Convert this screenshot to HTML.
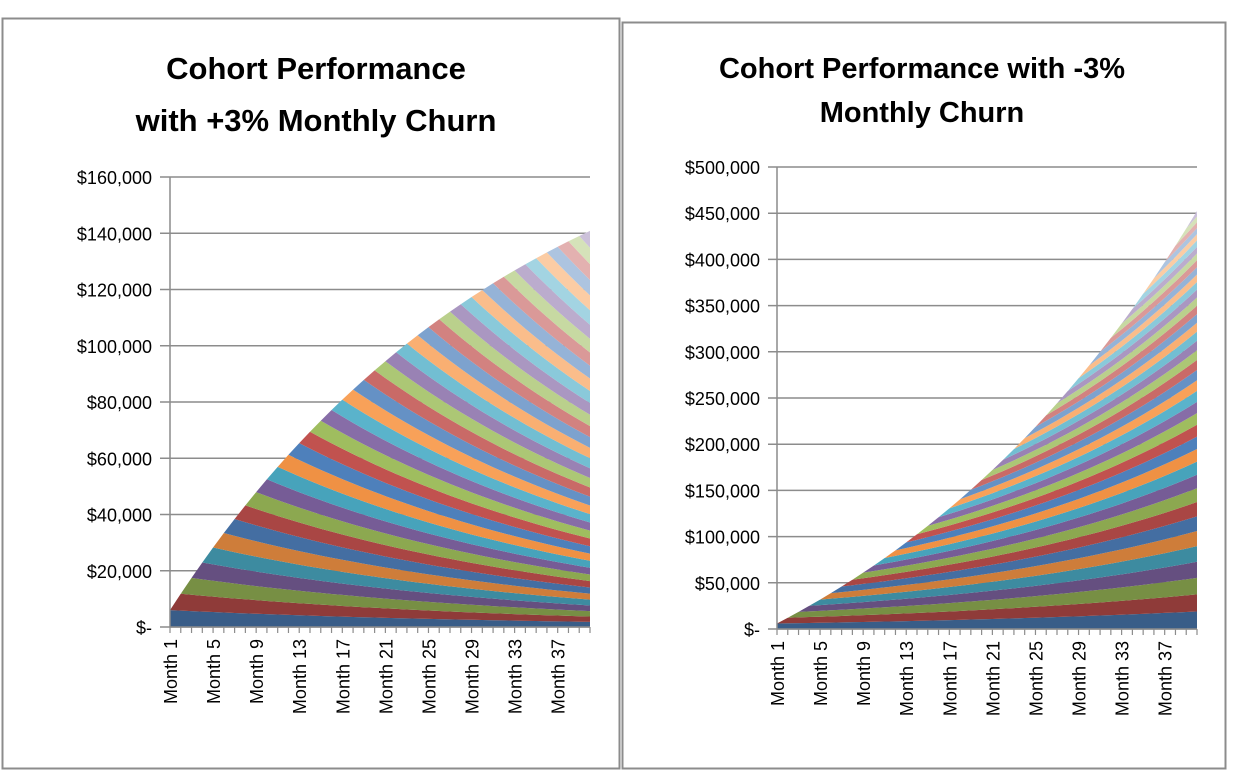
<!DOCTYPE html>
<html><head><meta charset="utf-8"><style>
html,body{margin:0;padding:0;background:#fff;}
svg{display:block;font-family:"Liberation Sans",Arial,sans-serif;}
</style></head><body>
<svg id="svg" width="1238" height="780" viewBox="0 0 1238 780">
<rect x="0" y="0" width="1238" height="780" fill="#fff"/>
<rect x="2.5" y="18.5" width="617" height="750" fill="#fff" stroke="#8c8c8c" stroke-width="2"/>
<rect x="622.5" y="22.5" width="603" height="746" fill="#fff" stroke="#8c8c8c" stroke-width="2"/>
<text x="316" y="79" text-anchor="middle" font-size="31" font-weight="bold">Cohort Performance</text>
<text x="316" y="131" text-anchor="middle" font-size="31" font-weight="bold">with +3% Monthly Churn</text>
<text x="922" y="78" text-anchor="middle" font-size="29" font-weight="bold">Cohort Performance with -3%</text>
<text x="922" y="122" text-anchor="middle" font-size="29" font-weight="bold">Monthly Churn</text>
<g id="left"></g>
<g id="right"></g>
</svg>
<script>
// Months shown on category axis
const months = Array.from({length:40},(_,i)=>'Month '+(i+1));
// Revenue of a cohort by age in months (+3% churn: decays)
const leftAgeValues = [6000,5820,5645,5476,5312,5152,4998,4848,4702,4561,4425,4292,4163,4038,3917,3800,3686,3575,3468,3364,3263,3165,3070,2978,2889,2802,2718,2636,2557,2480,2406,2334,2264,2196,2130,2066,2004,1944,1886,1829];
// Revenue of a cohort by age in months (-3% churn: grows)
const rightAgeValues = [6000,6180,6365,6556,6753,6956,7164,7379,7601,7829,8063,8305,8555,8811,9076,9348,9628,9917,10215,10521,10837,11162,11497,11842,12197,12563,12940,13328,13728,14139,14564,15000,15450,15914,16391,16883,17390,17911,18449,19002];
const leftTicks = [0,20000,40000,60000,80000,100000,120000,140000,160000];
const leftTickLabels = ['$-','$20,000','$40,000','$60,000','$80,000','$100,000','$120,000','$140,000','$160,000'];
const rightTicks = [0,50000,100000,150000,200000,250000,300000,350000,400000,450000,500000];
const rightTickLabels = ['$-','$50,000','$100,000','$150,000','$200,000','$250,000','$300,000','$350,000','$400,000','$450,000','$500,000'];

const NS='http://www.w3.org/2000/svg';
const base=[[79,129,189],[192,80,77],[155,187,89],[128,100,162],[75,172,198],[247,150,70]];
function color(i,n){
  const b=base[i%6]; const t=-0.28+0.88*i/(n-1);
  const c=b.map(v=>t<0?v*(1+t):v+(255-v)*t);
  return 'rgb('+c.map(Math.round).join(',')+')';
}
function mk(tag,attrs,parent){const e=document.createElementNS(NS,tag);for(const k in attrs)e.setAttribute(k,attrs[k]);parent.appendChild(e);return e;}

function draw(gid,ageValues,ticks,tickLabels,x0,x1,y0,y1,gridX0){
  const g=document.getElementById(gid);
  const max=ticks[ticks.length-1];
  const n=months.length;
  const xs=i=>x0+(x1-x0)*i/(n-1);
  const ys=v=>y0-(y0-y1)*v/max;
  ticks.forEach((t,k)=>{
    const l=mk('line',{x1:gridX0,x2:x1,y1:ys(t),y2:ys(t),stroke:'#8c8c8c','stroke-width':1.5},g);
    
    
    const tx=mk('text',{x:gridX0-8,y:ys(t)+7,'text-anchor':'end','font-size':18,fill:'#000'},g);
    tx.textContent=tickLabels[k];
    
    
  });
  // stacked cohorts
  const cum=new Array(n).fill(0);
  for(let c=0;c<n;c++){
    const lower=cum.slice();
    for(let m=c;m<n;m++)cum[m]+=ageValues[m-c];
    let pts=[];
    const start=Math.max(c-1,0);
    for(let m=start;m<n;m++)pts.push(xs(m)+','+ys(m>=c?cum[m]:lower[m]));
    for(let m=n-1;m>=start;m--)pts.push(xs(m)+','+ys(lower[m]));
    const p=mk('polygon',{points:pts.join(' '),fill:color(c,n)},g);
    
    
  }
  const ax=mk('line',{x1:x0,x2:x0,y1:y1,y2:y0,stroke:'#8c8c8c','stroke-width':1.5},g);
  
  
  const bx=mk('line',{x1:x0,x2:x1,y1:y0,y2:y0,stroke:'#8c8c8c','stroke-width':1.5},g);
  
  
  for(let m=0;m<n;m++){
    const tk=mk('line',{x1:xs(m),x2:xs(m),y1:y0,y2:y0+6,stroke:'#8c8c8c','stroke-width':1.2},g);
    
    
    if(m%4===0){
      const tx=mk('text',{x:0,y:0,'text-anchor':'end','font-size':18,transform:'translate('+(xs(m)+7)+','+(y0+12)+') rotate(-90)'},g);
      tx.textContent=months[m];
      
      
    }
  }
}
draw('left',leftAgeValues,leftTicks,leftTickLabels,170,590,627,177,160);
draw('right',rightAgeValues,rightTicks,rightTickLabels,777,1197,629,167,768);
</script>
</body></html>
